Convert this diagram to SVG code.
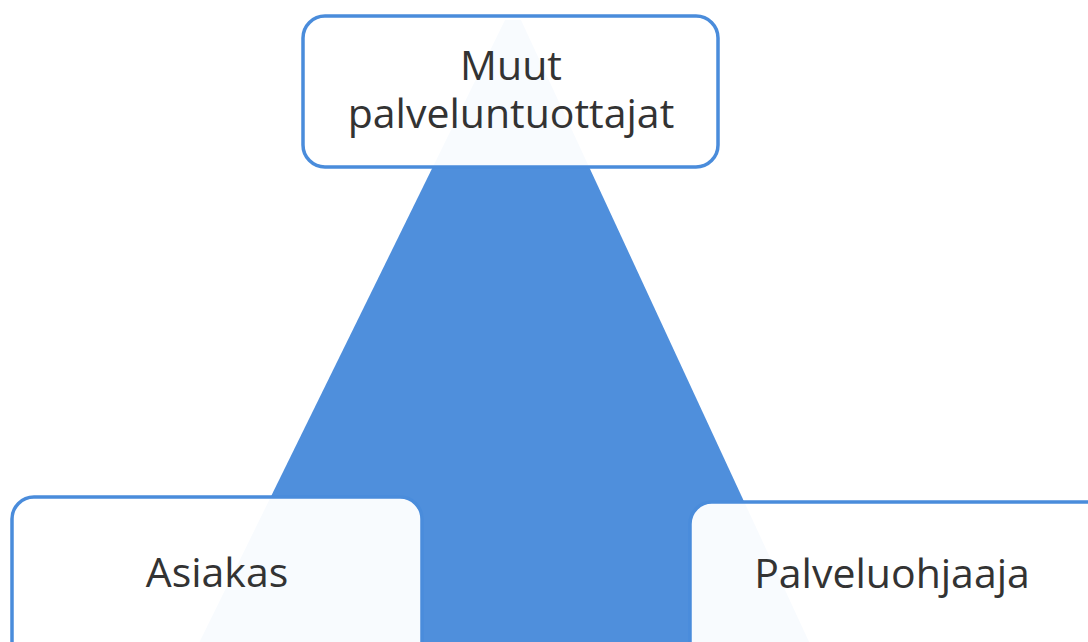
<svg xmlns="http://www.w3.org/2000/svg" width="1088" height="642" viewBox="0 0 1088 642">
<style>
.box{fill:#ffffff;fill-opacity:0.96;stroke:#4a8cdb;stroke-width:3.5}
.lbl{font-family:"Open Sans","Liberation Sans",sans-serif;font-size:41px;fill:#333333;text-anchor:middle}
</style>
<rect width="1088" height="642" fill="#ffffff"/>
<g id="connectors">
<polygon points="505,20 521,20 836,700 171,700" fill="#4f8fdc"/>
</g>
<g id="node-muut">
<rect class="box" x="303" y="16" width="415" height="151" rx="22"/>
<text class="lbl" x="511" y="80">Muut</text>
<text class="lbl" x="511" y="128">palveluntuottajat</text>
</g>
<g id="node-asiakas">
<rect class="box" x="12" y="497" width="410" height="170" rx="22"/>
<text class="lbl" x="217" y="587">Asiakas</text>
</g>
<g id="node-palveluohjaaja">
<rect class="box" x="690" y="502" width="420" height="170" rx="22"/>
<text class="lbl" x="892" y="588">Palveluohjaaja</text>
</g>
</svg>
